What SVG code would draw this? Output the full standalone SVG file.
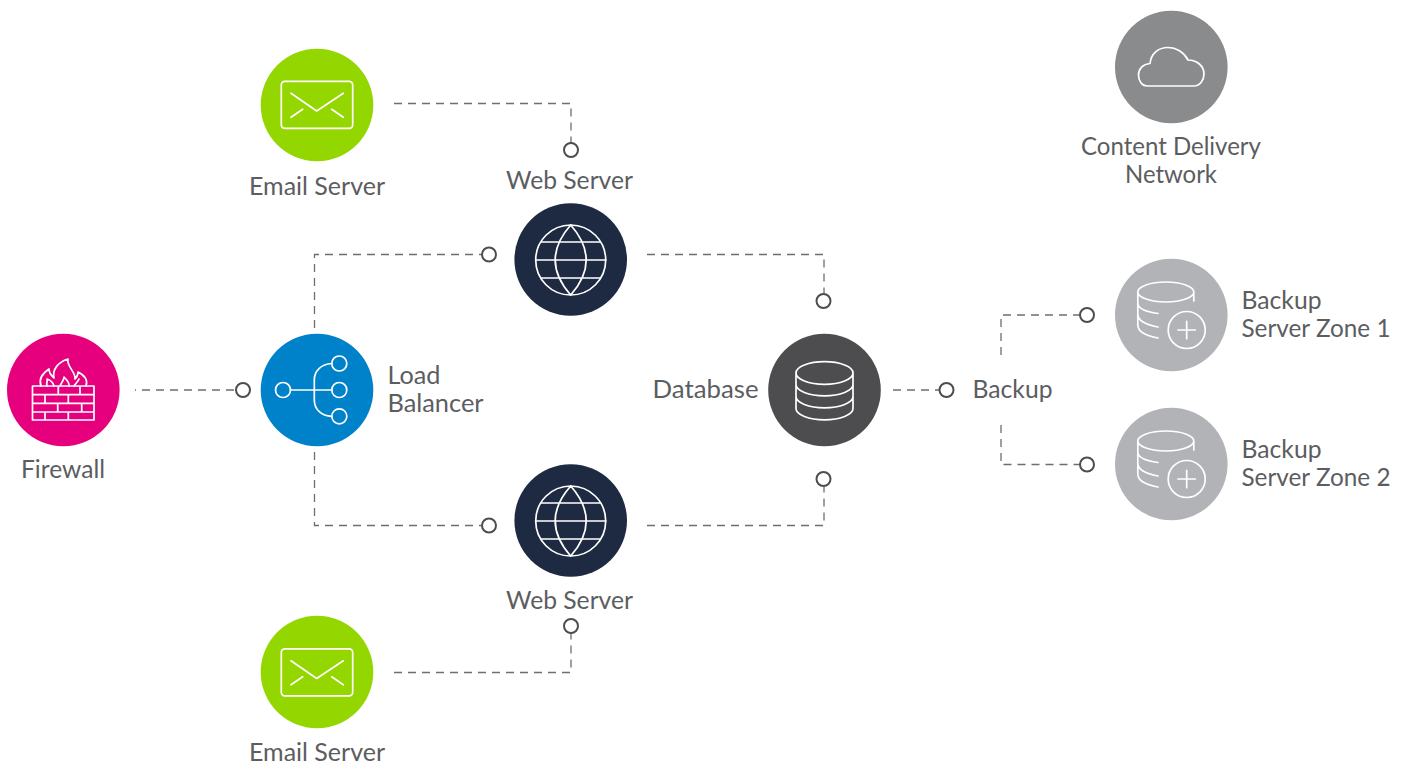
<svg xmlns="http://www.w3.org/2000/svg" width="1407" height="762" viewBox="0 0 1407 762">
<style>
text{font-family:"Lato","Noto Sans",sans-serif;font-size:24.5px;fill:#5c5d5f}
.m{text-anchor:middle}
.i{fill:none;stroke:#fff;stroke-width:1.7;stroke-linecap:round;stroke-linejoin:round}
.d{fill:none;stroke:#6e6e6e;stroke-width:1.3;stroke-dasharray:8 6}
.p{fill:#fff;stroke:#4d4d4d;stroke-width:2}
</style>
<defs>
<g id="mail"><rect class="i" x="281.3" y="81.3" width="71.4" height="47" rx="3.5"/><path class="i" d="M291 93.3L316.7 111L343.3 93.3M291 117.3L302.7 109.3M343.3 117.3L331.7 109.3"/></g>
<g id="globe"><circle class="i" cx="0" cy="0" r="35"/><path class="i" d="M0-35Q-31 0 0 35Q31 0 0-35M-29-18H29M-35 0H35M-29 18H29"/></g>
<g id="bk"><path class="i" d="M1137.800 292A28 10 0 0 1 1193.800 292A28 10 0 0 1 1137.800 292V325C1137.800 332 1147 336 1158 338M1193.800 292V301M1137.800 303C1137.800 309 1147 312 1158 313.500M1137.800 314C1137.800 321 1147 325 1158 327"/><circle class="i" cx="1186.700" cy="330" r="18.500"/><path class="i" d="M1186.700 321.300V338.700M1178 330H1195.400"/></g>
</defs>
<g id="connectors">
<path class="d" d="M135 390H236" stroke-dashoffset="7"/>
<path class="d" d="M394 103.500H571V143"/>
<path class="d" d="M314.500 328V254.500H482"/>
<path class="d" d="M314.500 452V525.500H482"/>
<path class="d" d="M647 254.500H824V294"/>
<path class="d" d="M647 525.500H824V472"/>
<path class="d" d="M893 390H939"/>
<path class="d" d="M1001 355V315H1080"/>
<path class="d" d="M1001 425V464.500H1080"/>
<path class="d" d="M394 672.500H571V633"/>
<g>
<circle class="p" cx="243" cy="390" r="7"/><circle class="p" cx="489" cy="254.500" r="7"/><circle class="p" cx="489" cy="525.500" r="7"/><circle class="p" cx="571" cy="150" r="7"/><circle class="p" cx="571" cy="626" r="7"/><circle class="p" cx="823.500" cy="301" r="7"/><circle class="p" cx="823.500" cy="479" r="7"/><circle class="p" cx="946.500" cy="390" r="7"/><circle class="p" cx="1087" cy="315" r="7"/><circle class="p" cx="1087" cy="464.500" r="7"/>
</g>
</g>
<g id="firewall">
<circle cx="63.300" cy="390" r="56.300" fill="#e6007e"/>
<path class="i" d="M32.500 386H94V420H32.500ZM32.500 394.700H94M32.500 403.300H94M32.500 412H94M58.300 386V394.700M80 386V394.700M45 394.700V403.300M68.300 394.700V403.300M57.700 403.300V412M81.700 403.300V412M45 412V420M68.300 412V420"/>
<path class="i" d="M41 386C38 378 43 373 49 369C49 374 52 376 54 378C52 370 58 362 68 359C66 366 76 372 75 379C77 377 78 374 78 372C84 375 88 380 86 386M47 386C46 382 48 380 47 379C50 380 53 382 54 386M60 386C61 383 64 381 64 377C67 380 70 383 69 386M74 386C75 384 78 382 79 379"/>
<text class="m" x="63" y="478" textLength="84" lengthAdjust="spacingAndGlyphs">Firewall</text>
</g>
<g id="email-server-1">
<circle cx="317" cy="105" r="56.300" fill="#94d600"/>
<use href="#mail"/>
<text class="m" x="317" y="195" textLength="136" lengthAdjust="spacingAndGlyphs">Email Server</text>
</g>
<g id="email-server-2">
<circle cx="317" cy="672" r="56.300" fill="#94d600"/>
<use href="#mail" y="567.500"/>
<text class="m" x="317" y="761" textLength="136" lengthAdjust="spacingAndGlyphs">Email Server</text>
</g>
<g id="load-balancer">
<circle cx="317" cy="390" r="56.300" fill="#0082ca"/>
<circle class="i" cx="283" cy="390" r="7.500"/><circle class="i" cx="339.300" cy="363.500" r="7.500"/><circle class="i" cx="339.300" cy="390" r="7.500"/><circle class="i" cx="339.300" cy="416.300" r="7.500"/>
<path class="i" d="M290.500 390H331.800M331.800 363.500C321 364 314.300 371 314.300 380V400C314.300 409 321 416 331.800 416.300"/>
<text x="387.500" y="384" textLength="53" lengthAdjust="spacingAndGlyphs">Load</text>
<text x="387.500" y="412" textLength="96" lengthAdjust="spacingAndGlyphs">Balancer</text>
</g>
<g id="web-server-1">
<circle cx="570.700" cy="259.500" r="56.300" fill="#1e2a41"/>
<use href="#globe" transform="translate(570.700 260)"/>
<text class="m" x="569.500" y="189" textLength="127" lengthAdjust="spacingAndGlyphs">Web Server</text>
</g>
<g id="web-server-2">
<circle cx="570.700" cy="520.500" r="56.300" fill="#1e2a41"/>
<use href="#globe" transform="translate(570.700 521)"/>
<text class="m" x="569.500" y="609" textLength="127" lengthAdjust="spacingAndGlyphs">Web Server</text>
</g>
<g id="database">
<circle cx="824.500" cy="390" r="56.300" fill="#4d4d4f"/>
<path class="i" d="M796 373A28.500 11.300 0 0 1 853 373A28.500 11.300 0 0 1 796 373V408.500A28.500 11.300 0 0 0 853 408.500V373M796 384.500A28.500 11.300 0 0 0 853 384.500M796 396.500A28.500 11.300 0 0 0 853 396.500"/>
<text x="758.500" y="398" text-anchor="end" textLength="106" lengthAdjust="spacingAndGlyphs">Database</text>
</g>
<g id="backup"><text x="972.500" y="398" textLength="80" lengthAdjust="spacingAndGlyphs">Backup</text></g>
<g id="backup-zone-1">
<circle cx="1171.300" cy="315" r="56.300" fill="#b1b3b6"/>
<use href="#bk"/>
<text x="1241.500" y="309" textLength="80" lengthAdjust="spacingAndGlyphs">Backup</text>
<text x="1241.500" y="337" textLength="149" lengthAdjust="spacingAndGlyphs">Server Zone 1</text>
</g>
<g id="backup-zone-2">
<circle cx="1171.300" cy="464" r="56.300" fill="#b1b3b6"/>
<use href="#bk" y="149"/>
<text x="1241.500" y="458" textLength="80" lengthAdjust="spacingAndGlyphs">Backup</text>
<text x="1241.500" y="486" textLength="149" lengthAdjust="spacingAndGlyphs">Server Zone 2</text>
</g>
<g id="cdn">
<circle cx="1171.300" cy="67" r="56.300" fill="#8a8b8d"/>
<path class="i" d="M1147 86H1194C1200 86 1204 80 1204 74C1204 66 1197 60 1188 60C1184 52 1176 47.500 1168 47.500C1158 47.500 1151 54 1150 63.500C1143 64 1138.500 69 1138.500 75C1138.500 81 1142 86 1147 86Z"/>
<text class="m" x="1171" y="155" textLength="180" lengthAdjust="spacingAndGlyphs">Content Delivery</text>
<text class="m" x="1171" y="183" textLength="92" lengthAdjust="spacingAndGlyphs">Network</text>
</g>
</svg>
